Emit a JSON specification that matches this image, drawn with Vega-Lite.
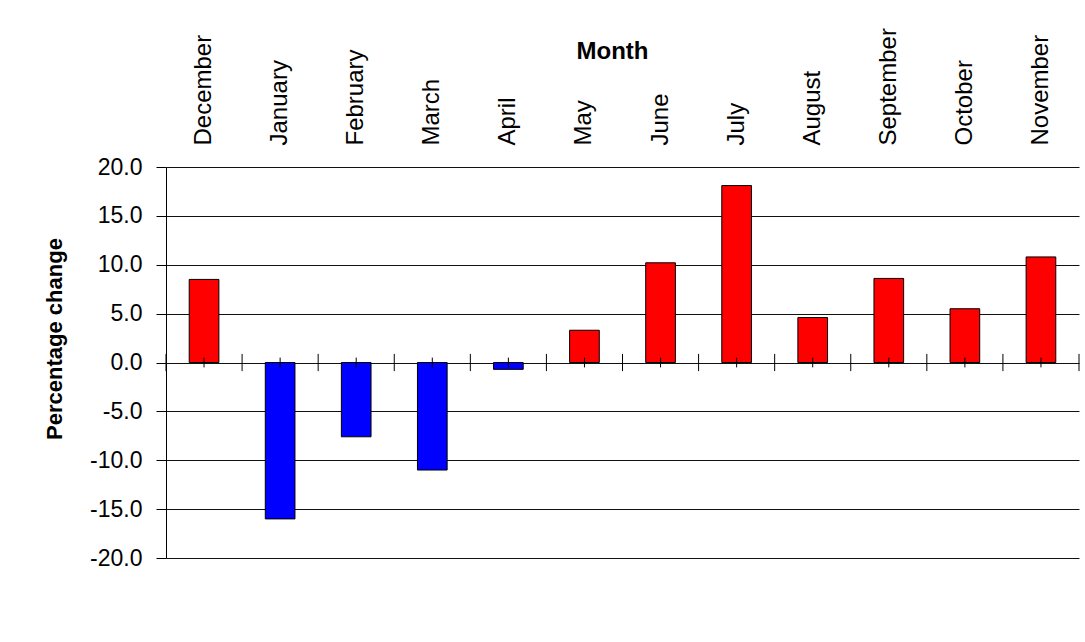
{
  "$schema": "https://vega.github.io/schema/vega-lite/v6.json",
  "autosize": {"type": "none"},
  "padding": {"left": 166, "top": 167, "right": 6, "bottom": 84},
  "width": 913,
  "height": 391,
  "background": "white",
  "config": {
    "view": {"stroke": null},
    "font": "Liberation Sans",
    "axis": {"labelFont": "Liberation Sans", "titleFont": "Liberation Sans", "labelColor": "black", "titleColor": "black"}
  },
  "data": {
    "values": [
      {"month": "December", "change": 8.5},
      {"month": "January", "change": -16.0},
      {"month": "February", "change": -7.6},
      {"month": "March", "change": -11.0},
      {"month": "April", "change": -0.7},
      {"month": "May", "change": 3.3},
      {"month": "June", "change": 10.2},
      {"month": "July", "change": 18.1},
      {"month": "August", "change": 4.6},
      {"month": "September", "change": 8.6},
      {"month": "October", "change": 5.5},
      {"month": "November", "change": 10.8}
    ]
  },
  "layer": [
    {
      "mark": {"type": "bar", "stroke": "black", "strokeWidth": 1, "width": {"band": 0.39}},
      "encoding": {
        "x": {
          "field": "month", "type": "nominal", "sort": null,
          "scale": {"paddingInner": 0, "paddingOuter": 0},
          "axis": {
            "orient": "top", "domain": false, "ticks": false, "tickSize": 0,
            "labelAngle": -90, "labelPadding": 22, "labelFontSize": 24,
            "grid": false,
            "title": "Month", "titleFontSize": 24, "titleFontWeight": "bold",
            "titleX": 446, "titleY": -109, "titleAlign": "center", "titleBaseline": "alphabetic"
          }
        },
        "y": {
          "field": "change", "type": "quantitative",
          "scale": {"domain": [-20, 20], "nice": false},
          "axis": {
            "values": [-20, -15, -10, -5, 0, 5, 10, 15, 20],
            "labelExpr": "replace(format(datum.value, '.1f'), '\u2212', '-')",
            "labelFontSize": 23, "labelPadding": 14,
            "tickSize": 10, "tickColor": "black", "domainColor": "black",
            "grid": true, "gridColor": "#111111", "gridWidth": 1,
            "title": "Percentage change", "titleFontSize": 22, "titleFontWeight": "bold",
            "titleX": -105, "titleY": 171.5, "titleAlign": "center", "titleBaseline": "alphabetic"
          }
        },
        "color": {
          "condition": {"test": "datum.change < 0", "value": "#0000FF"},
          "value": "#FF0000"
        }
      }
    },
    {
      "mark": {"type": "rule", "color": "black", "strokeWidth": 1},
      "encoding": {
        "x": {"field": "month", "type": "nominal", "sort": null, "bandPosition": 0},
        "y": {"datum": -0.88},
        "y2": {"datum": 0.88}
      }
    },
    {
      "transform": [{"filter": "datum.month === 'November'"}],
      "mark": {"type": "rule", "color": "black", "strokeWidth": 1},
      "encoding": {
        "x": {"field": "month", "type": "nominal", "sort": null, "bandPosition": 1},
        "y": {"datum": -0.88},
        "y2": {"datum": 0.88}
      }
    },
    {
      "mark": {"type": "rule", "color": "black", "strokeWidth": 1},
      "encoding": {
        "x": {"field": "month", "type": "nominal", "sort": null, "bandPosition": 0.5},
        "y": {"datum": -0.5},
        "y2": {"datum": 0.5}
      }
    }
  ]
}
